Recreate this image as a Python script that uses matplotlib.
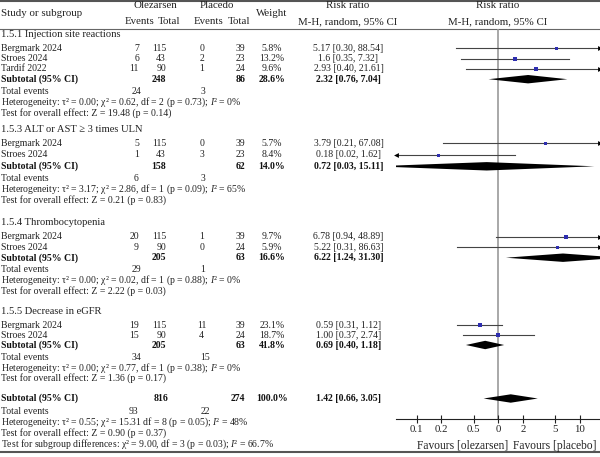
import numpy as np
import matplotlib
matplotlib.use('Agg')
import matplotlib.pyplot as plt

plt.rcParams['font.family'] = ['Liberation Serif', 'DejaVu Serif']
plt.rcParams['mathtext.fontset'] = 'custom'
plt.rcParams['mathtext.rm'] = 'Liberation Serif'
plt.rcParams['mathtext.it'] = 'Liberation Serif:italic'

# ---- data ----
groups = ['1.5.1 Injection site reactions', '1.5.3 ALT or AST ≥ 3 times ULN',
          '1.5.4 Thrombocytopenia', '1.5.5 Decrease in eGFR']
studies = [['Bergmark 2024', 'Stroes 2024', 'Tardif 2022'],
           ['Bergmark 2024', 'Stroes 2024'],
           ['Bergmark 2024', 'Stroes 2024'],
           ['Bergmark 2024', 'Stroes 2024']]
ole_events = [[7, 6, 11], [5, 1], [20, 9], [19, 15]]
ole_total = [[115, 43, 90], [115, 43], [115, 90], [115, 90]]
pla_events = [[0, 2, 1], [0, 3], [1, 0], [11, 4]]
pla_total = [[39, 23, 24], [39, 23], [39, 24], [39, 24]]
weights = [[5.8, 13.2, 9.6], [5.7, 8.4], [9.7, 5.9], [23.1, 18.7]]
rr = [[5.17, 1.6, 2.93], [3.79, 0.18], [6.78, 5.22], [0.59, 1.00]]
rr_lo = [[0.30, 0.35, 0.40], [0.21, 0.02], [0.94, 0.31], [0.31, 0.37]]
rr_hi = [[88.54, 7.32, 21.61], [67.08, 1.62], [48.89, 86.63], [1.12, 2.74]]
rr_labels = [['5.17 [0.30, 88.54]', '1.6 [0.35, 7.32]', '2.93 [0.40, 21.61]'],
             ['3.79 [0.21, 67.08]', '0.18 [0.02, 1.62]'],
             ['6.78 [0.94, 48.89]', '5.22 [0.31, 86.63]'],
             ['0.59 [0.31, 1.12]', '1.00 [0.37, 2.74]']]

sub_ole_total = [248, 158, 205, 205]
sub_pla_total = [86, 62, 63, 63]
sub_weight = [28.6, 14.0, 16.6, 41.8]
sub_rr = [2.32, 0.72, 6.22, 0.69]
sub_lo = [0.76, 0.03, 1.24, 0.40]
sub_hi = [7.04, 15.11, 31.30, 1.18]
sub_labels = ['2.32 [0.76, 7.04]', '0.72 [0.03, 15.11]', '6.22 [1.24, 31.30]', '0.69 [0.40, 1.18]']
tot_ole_events = [24, 6, 29, 34]
tot_pla_events = [3, 3, 1, 15]
het_text = ['Heterogeneity: τ² = 0.00; χ² = 0.62, df = 2 (p = 0.73); $I$² = 0%',
            'Heterogeneity: τ² = 3.17; χ² = 2.86, df = 1 (p = 0.09); $I$² = 65%',
            'Heterogeneity: τ² = 0.00; χ² = 0.02, df = 1 (p = 0.88); $I$² = 0%',
            'Heterogeneity: τ² = 0.00; χ² = 0.77, df = 1 (p = 0.38); $I$² = 0%']
effect_text = ['Test for overall effect: Z = 19.48 (p = 0.14)',
               'Test for overall effect: Z = 0.21 (p = 0.83)',
               'Test for overall effect: Z = 2.22 (p = 0.03)',
               'Test for overall effect: Z = 1.36 (p = 0.17)']

all_ole_total, all_pla_total, all_weight = 816, 274, 100.0
all_rr, all_lo, all_hi = 1.42, 0.66, 3.05
all_label = '1.42 [0.66, 3.05]'
all_ole_events, all_pla_events = 93, 22
all_het = 'Heterogeneity: τ² = 0.55; χ² = 15.31 df = 8 (p = 0.05); $I$² = 48%'
all_effect = 'Test for overall effect: Z = 0.90 (p = 0.37)'
all_subgroup = 'Test for subgroup differences: χ² = 9.00, df = 3 (p = 0.03); $I$² = 66.7%'

xticks = [0.1, 0.2, 0.5, 1, 2, 5, 10]
xtick_labels = ['0.1', '0.2', '0.5', '0', '2', '5', '10']

# ---- layout (pixel rows) ----
W, H = 600, 457
group_top = [34.3, 129.3, 222.7, 311]
row_step = [10.3, 11.5, 10.5, 10]
overall_top = 398.5

fs = 7.0
fs_head = 7.8
fs_group = 7.6
blue = '#2e2eb0'
ci_col = '#444444'

fig = plt.figure(figsize=(6, 4.57), dpi=100)
ax = fig.add_axes([0, 0, 1, 1])
ax.set_xlim(0, W)
ax.set_ylim(H, 0)
ax.axis('off')

plot_top, plot_bot = 29, 419
px = fig.add_axes([395.7 / W, (H - plot_bot) / H, (W - 395.7) / W, (plot_bot - plot_top) / H])
px.set_xscale('log')
xmin, xmax = 0.055, 17.7
px.set_xlim(xmin, xmax)
px.set_ylim(plot_bot, plot_top)
px.patch.set_alpha(0)
for s in ['top', 'left', 'right']:
    px.spines[s].set_visible(False)
px.spines['bottom'].set_color('#222222')
px.spines['bottom'].set_linewidth(0.8)
px.set_yticks([])
px.set_xticks(xticks)
px.set_xticklabels(xtick_labels)
px.minorticks_off()
px.tick_params(axis='x', direction='inout', length=6, width=0.8, labelsize=7.8, pad=1.5, colors='#222222')
px.axvline(1, color='#999999', lw=1.2, zorder=1)

# header
ax.axhline(0.8, color='#555555', lw=1.5)
ax.axhline(28.5, color='#666666', lw=0.8)
ax.axhline(452, color='#555555', lw=1.5)
hk = dict(fontsize=fs_head, va='center', color='#222222')
ax.text(1, 14, 'Study or subgroup', ha='left', **hk)
ax.text(155, 6, 'Olezarsen', ha='center', **hk)
ax.text(217, 6, 'Placedo', ha='center', **hk)
ax.text(140, 22, 'Events', ha='center', **hk)
ax.text(169, 22, 'Total', ha='center', **hk)
ax.text(209, 22, 'Events', ha='center', **hk)
ax.text(238.5, 22, 'Total', ha='center', **hk)
ax.text(272, 14, 'Weight', ha='center', **hk)
ax.text(348, 6, 'Risk ratio', ha='center', **hk)
ax.text(348, 22, 'M-H, random, 95% CI', ha='center', **hk)
ax.text(498, 6, 'Risk ratio', ha='center', **hk)
ax.text(498, 22, 'M-H, random, 95% CI', ha='center', **hk)

tk = dict(fontsize=fs, va='center', color='#222222')
bk = dict(fontsize=fs, va='center', color='#111111', fontweight='bold')


def ci_line(y, lo, hi):
    a, b = max(lo, xmin), min(hi, xmax)
    px.plot([a, b], [y, y], color=ci_col, lw=0.8, zorder=2)
    if hi > xmax:
        px.plot([xmax], [y], marker='>', color='black', ms=3.5, mew=0, clip_on=False, zorder=3)
    if lo < xmin:
        px.plot([xmin], [y], marker='<', color='black', ms=3.5, mew=0, clip_on=False, zorder=3)


def diamond(y, est, lo, hi, h=4.2):
    px.fill([lo, est, hi, est], [y, y - h, y, y + h], color='black', lw=0, zorder=3)


for g in range(len(groups)):
    y = group_top[g]
    step = row_step[g]
    ax.text(1, y, groups[g], ha='left', fontsize=fs_group, va='center', color='#222222')
    y += 14
    for i in range(len(studies[g])):
        ax.text(1, y, studies[g][i], ha='left', **tk)
        ax.text(139, y, str(ole_events[g][i]), ha='right', **tk)
        ax.text(166, y, str(ole_total[g][i]), ha='right', **tk)
        ax.text(201.7, y, str(pla_events[g][i]), ha='center', **tk)
        ax.text(245, y, str(pla_total[g][i]), ha='right', **tk)
        ax.text(272, y, f'{weights[g][i]:.1f}%', ha='center', **tk)
        ax.text(348.5, y, rr_labels[g][i], ha='center', **tk)
        ci_line(y, rr_lo[g][i], rr_hi[g][i])
        px.plot([rr[g][i]], [y], marker='s', color=blue, lw=0,
                ms=0.72 * max(np.sqrt(weights[g][i]), 3.0), mew=0, zorder=4)
        y += step
    ax.text(1, y, 'Subtotal (95% CI)', ha='left', **bk)
    ax.text(166, y, str(sub_ole_total[g]), ha='right', **bk)
    ax.text(245, y, str(sub_pla_total[g]), ha='right', **bk)
    ax.text(272, y, f'{sub_weight[g]:.1f}%', ha='center', **bk)
    ax.text(348.5, y, sub_labels[g], ha='center', **bk)
    diamond(y, sub_rr[g], sub_lo[g], sub_hi[g])
    y += 12
    ax.text(1, y, 'Total events', ha='left', **tk)
    ax.text(136, y, str(tot_ole_events[g]), ha='center', **tk)
    ax.text(200.5, y, str(tot_pla_events[g]), ha='left', **tk)
    y += 10.8
    ax.text(1, y, het_text[g], ha='left', **tk)
    y += 10.7
    ax.text(1, y, effect_text[g], ha='left', **tk)

y = overall_top
ax.text(1, y, 'Subtotal (95% CI)', ha='left', **bk)
ax.text(168, y, str(all_ole_total), ha='right', **bk)
ax.text(245, y, str(all_pla_total), ha='right', **bk)
ax.text(272, y, f'{all_weight:.1f}%', ha='center', **bk)
ax.text(348.5, y, all_label, ha='center', **bk)
diamond(y, all_rr, all_lo, all_hi)
y += 13
ax.text(1, y, 'Total events', ha='left', **tk)
ax.text(133, y, str(all_ole_events), ha='center', **tk)
ax.text(200.5, y, str(all_pla_events), ha='left', **tk)
y += 10.3
ax.text(1, y, all_het, ha='left', **tk)
y += 11
ax.text(1, y, all_effect, ha='left', **tk)
y += 11.3
ax.text(1, y, all_subgroup, ha='left', **tk)

ax.text(508, 445.7, 'Favours [olezarsen]', ha='right', fontsize=8.3, va='center', color='#222222')
ax.text(513, 445.7, 'Favours [placebo]', ha='left', fontsize=8.3, va='center', color='#222222')

fig.savefig('out.png', dpi=100, facecolor='white')
